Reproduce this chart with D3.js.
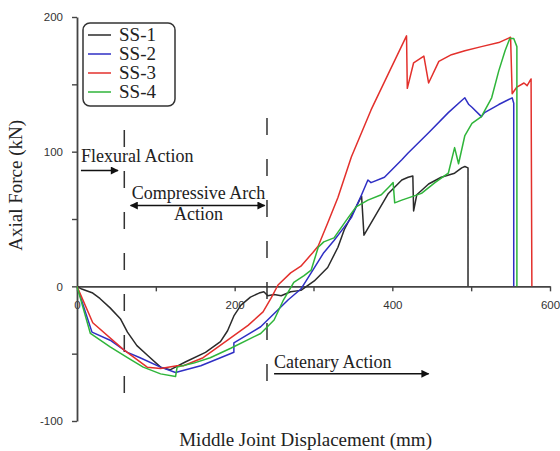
<!DOCTYPE html>
<meta charset="utf-8">
<script src="https://d3js.org/d3.v7.min.js"></script>
<style>
  body { margin: 0; background: #fff; }
</style>
<div id="my_dataviz"></div>
<script>
// series names and colours
var seriesNames = ["SS-1", "SS-2", "SS-3", "SS-4"];
var seriesColors = ["#2b2b2b", "#2f2fc4", "#e3302c", "#2fb53a"];

// [displacement (mm), axial force (kN)]
var ss1 = [[0,0],[6,-2],[20,-5],[29,-9],[42,-16],[55,-24],[64,-34],[76,-44],[89,-51],[106,-60],[118,-62],
  [138,-56],[163,-49],[182,-41],[191,-33],[199,-22],[208,-14],[220,-8],[231,-5],[237,-4],[242,-7],[250,-6],
  [259,-7],[271,-4],[284,-3],[301,4],[318,14],[331,29],[339,42],[354,59],[361,67],[364,38],[377,51],
  [395,69],[412,79],[420,81],[426,82],[427,56],[431,68],[446,76],[462,81],[479,84],[488,88],[492,89],
  [496,88],[496,0]];
var ss2 = [[0,0],[19,-34],[42,-40],[64,-49],[80,-53],[106,-60],[125,-64],[157,-59],[182,-53],[199,-49],
  [199,-42],[233,-30],[268,-10],[284,-2],[297,10],[313,25],[326,34],[339,44],[348,51],[361,68],[369,79],
  [373,77],[390,81],[412,94],[420,99],[446,114],[471,129],[488,138],[492,140],[497,135],[501,133],
  [513,126],[517,129],[535,135],[552,140],[554,136],[554,0]];
var ss3 = [[0,0],[20,-27],[59,-47],[89,-60],[106,-61],[127,-59],[135,-59],[160,-53],[191,-40],[217,-29],
  [236,-19],[246,-9],[255,1],[271,10],[284,15],[299,25],[306,30],[318,47],[331,66],[348,96],[373,131],
  [395,158],[418,186],[419,147],[427,166],[440,171],[446,151],[459,167],[475,172],[492,175],[513,178],
  [535,181],[550,185],[552,143],[558,148],[567,151],[571,149],[576,154],[577,0]];
var ss4 = [[0,0],[17,-35],[42,-45],[64,-53],[84,-60],[106,-65],[125,-67],[127,-60],[148,-57],[169,-53],
  [195,-46],[233,-35],[250,-25],[262,-10],[275,3],[288,8],[297,12],[306,29],[313,33],[326,36],[344,51],
  [354,59],[369,64],[386,68],[396,74],[401,77],[403,62],[412,64],[437,69],[454,77],[471,84],[479,103],
  [484,91],[492,112],[501,121],[513,126],[526,140],[535,160],[543,175],[549,184],[554,184],[558,178],[558,0]];
var seriesData = [ss1, ss2, ss3, ss4];

// tick values
var xTicks = [0, 100, 200, 300, 400, 500, 600];
var yTicks = [-100, -50, 0, 50, 100, 150, 200];

// phase boundaries (mm)
var phaseLines = [60, 241];

// set the dimensions and margins of the graph
var margin = {top: 17, right: 10, bottom: 30, left: 77},
    width = 473,
    height = 404;

var svg = d3.select("#my_dataviz")
  .append("svg")
    .attr("width", 560)
    .attr("height", 451)
  .append("g")
    .attr("transform", "translate(" + margin.left + "," + margin.top + ")");

var x = d3.scaleLinear().domain([0, 600]).range([0, width]);
var y = d3.scaleLinear().domain([-100, 200]).range([height, 0]);

// X axis sits on zero
var xAxis = svg.append("g")
    .attr("transform", "translate(0," + y(0) + ")")
    .call(d3.axisBottom(x)
      .tickValues(xTicks)
      .tickSize(5).tickSizeOuter(0).tickPadding(10)
      .tickFormat(d => d % 200 === 0 ? d : ""));

var yAxis = svg.append("g")
    .call(d3.axisLeft(y)
      .tickValues(yTicks)
      .tickSize(5).tickSizeOuter(0).tickPadding(9)
      .tickFormat(d => d % 100 === 0 ? d : ""));

[xAxis, yAxis].forEach(function(a) {
  a.select(".domain").attr("stroke", "#444").attr("stroke-width", 1.8);
  a.selectAll(".tick line").attr("stroke", "#444").attr("stroke-width", 1.4);
  a.selectAll("text")
    .style("font-family", "'Liberation Sans', Arial, sans-serif")
    .style("font-size", "11.5px")
    .attr("fill", "#333");
});

// dashed phase lines
svg.selectAll(".phase")
  .data(phaseLines)
  .enter().append("line")
    .attr("x1", d => x(d)).attr("x2", d => x(d))
    .attr("y1", (d, i) => i === 0 ? y(116) : y(125))
    .attr("y2", (d, i) => i === 0 ? y(-80) : y(-71))
    .attr("stroke", "#333")
    .attr("stroke-width", 1.5)
    .attr("stroke-dasharray", "17,24");

// curves
var line = d3.line().x(d => x(d[0])).y(d => y(d[1]));
svg.selectAll(".curve")
  .data(seriesData)
  .enter().append("path")
    .attr("d", line)
    .attr("fill", "none")
    .attr("stroke", (d, i) => seriesColors[i])
    .attr("stroke-width", 1.5)
    .attr("stroke-linejoin", "round");

// arrow heads
var defs = svg.append("defs");
defs.append("marker")
    .attr("id", "arrowEnd")
    .attr("viewBox", "0 0 10 10")
    .attr("refX", 9).attr("refY", 5)
    .attr("markerWidth", 10).attr("markerHeight", 8)
    .attr("markerUnits", "userSpaceOnUse")
    .attr("orient", "auto-start-reverse")
  .append("path")
    .attr("d", "M0,0L10,5L0,10Z")
    .attr("fill", "#111");

var serif = "'Liberation Serif', 'Times New Roman', serif";

function arrow(x1, x2, yv, both) {
  var l = svg.append("line")
    .attr("x1", x(x1)).attr("x2", x(x2))
    .attr("y1", y(yv)).attr("y2", y(yv))
    .attr("stroke", "#111").attr("stroke-width", 1.5)
    .attr("marker-end", "url(#arrowEnd)");
  if (both) l.attr("marker-start", "url(#arrowEnd)");
}

function label(txt, xv, yv, anchor) {
  svg.append("text")
    .attr("x", x(xv)).attr("y", y(yv))
    .attr("text-anchor", anchor || "start")
    .style("font-family", serif)
    .style("font-size", "18px")
    .attr("fill", "#222")
    .text(txt);
}

label("Flexural Action", 5, 92);
arrow(5, 52, 86, false);

label("Compressive Arch", 154, 65, "middle");
label("Action", 154, 49, "middle");
arrow(68, 238, 60, true);

label("Catenary Action", 250, -61);
arrow(250, 446, -65, false);

// axis titles
svg.append("text")
    .attr("transform", "rotate(-90)")
    .attr("x", -(y(75)))
    .attr("y", -55)
    .attr("text-anchor", "middle")
    .style("font-family", serif)
    .style("font-size", "19px")
    .attr("fill", "#222")
    .text("Axial Force (kN)");

svg.append("text")
    .attr("x", x(290))
    .attr("y", height + 25)
    .attr("text-anchor", "middle")
    .style("font-family", serif)
    .style("font-size", "19px")
    .attr("fill", "#222")
    .text("Middle Joint Displacement (mm)");

// legend
var legend = svg.append("g")
    .attr("transform", "translate(6,6)");

legend.append("rect")
    .attr("width", 92).attr("height", 83)
    .attr("rx", 7).attr("ry", 7)
    .attr("fill", "#fff")
    .attr("stroke", "#333")
    .attr("stroke-width", 1.5);

var items = legend.selectAll(".item")
  .data(seriesNames)
  .enter().append("g")
    .attr("transform", (d, i) => "translate(0," + (12 + i * 19) + ")");

items.append("line")
    .attr("x1", 5).attr("x2", 28)
    .attr("stroke", (d, i) => seriesColors[i])
    .attr("stroke-width", 1.5);

items.append("text")
    .attr("x", 36).attr("y", 6)
    .style("font-family", serif)
    .style("font-size", "19px")
    .attr("fill", "#222")
    .text(d => d);
</script>
